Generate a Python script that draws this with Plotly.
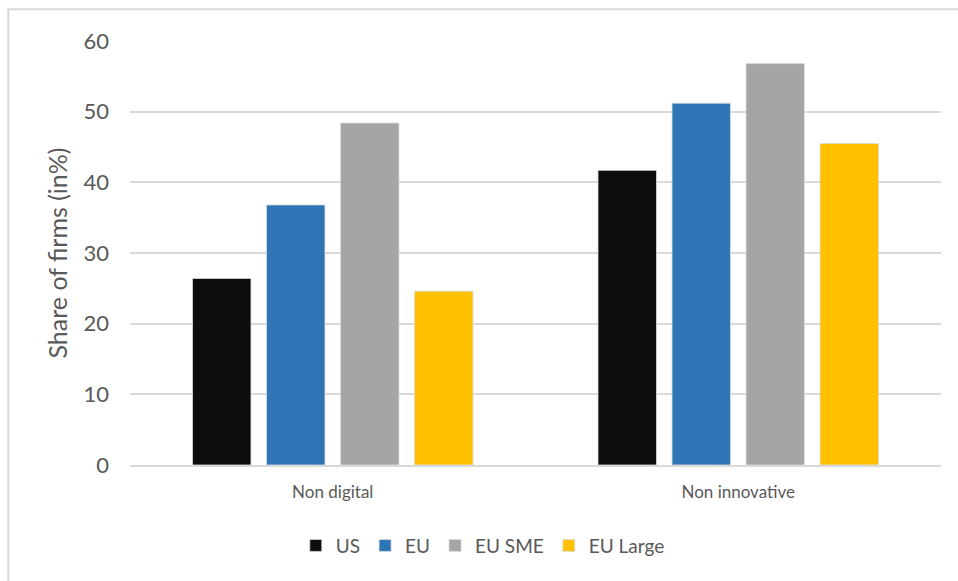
import plotly.graph_objects as go

categories = ["Non digital", "Non innovative"]
series_names = ["US", "EU", "EU SME", "EU Large"]
us = [26.4, 41.7]
eu = [36.8, 51.2]
eu_sme = [48.4, 56.8]
eu_large = [24.6, 45.5]
colors = ["#0d0d0d", "#2e75b6", "#a5a5a5", "#ffc000"]
y_ticks = [0, 10, 20, 30, 40, 50, 60]

fig = go.Figure()
for name, vals, col in zip(series_names, [us, eu, eu_sme, eu_large], colors):
    fig.add_trace(go.Bar(
        x=categories, y=vals, name=name,
        marker=dict(color=col, line=dict(color="rgba(220,220,220,0.8)", width=1)),
    ))

font_family = "Lato, Carlito, Calibri, sans-serif"
fig.update_layout(
    width=958, height=581,
    margin=dict(l=130, r=17, t=41, b=116),
    paper_bgcolor="white", plot_bgcolor="white",
    barmode="group", bargap=0.27, bargroupgap=0.21,
    font=dict(family=font_family, color="#595959"),
    showlegend=True,
    legend=dict(orientation="h", x=0.435, xanchor="center", y=-0.19, yanchor="middle",
                font=dict(size=19, color="#595959"), itemwidth=30, traceorder="normal"),
    xaxis=dict(showgrid=False, showline=True, linecolor="#d9d9d9", linewidth=2,
               tickfont=dict(size=17, color="#595959"), ticks="", ticklabelstandoff=11),
    yaxis=dict(range=[0, 60], tickvals=y_ticks, showgrid=True, gridcolor="#d9d9d9", gridwidth=2,
               zeroline=False, showline=False, ticks="", ticklen=0, ticklabelstandoff=20,
               tickfont=dict(size=22, color="#595959"),
               title=dict(text="Share of firms (in%)", font=dict(size=25, color="#595959"), standoff=8)),
)
fig.add_shape(type="rect", xref="paper", yref="paper",
              x0=-0.150, y0=-0.3, x1=1.1, y1=1.075,
              line=dict(color="#d9d9d9", width=2), fillcolor="rgba(0,0,0,0)", layer="below")
fig.write_html("out.html")
